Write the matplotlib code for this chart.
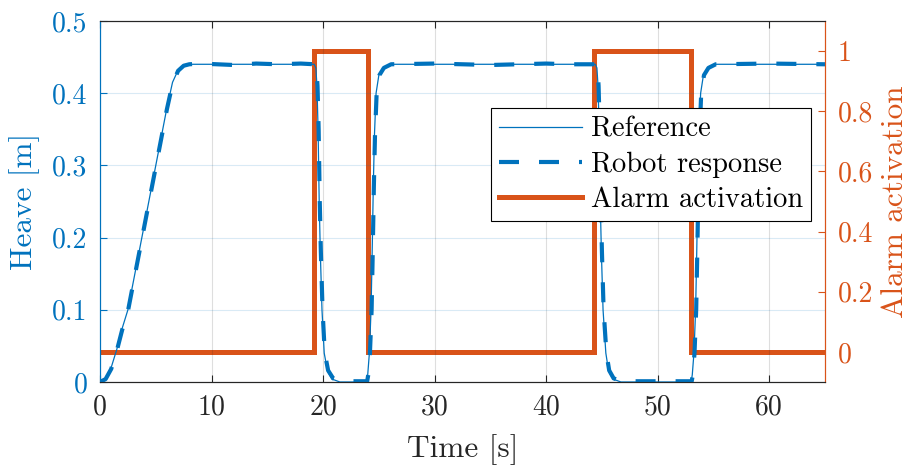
import matplotlib
matplotlib.use("Agg")
import matplotlib.pyplot as plt
from matplotlib.lines import Line2D

plt.rcParams['font.family'] = ['cmr10', 'DejaVu Serif']
plt.rcParams['mathtext.fontset'] = 'cm'
plt.rcParams['axes.formatter.use_mathtext'] = True

BLUE = '#0072BD'
ORANGE = '#D95319'
DARK = '#262626'

# ---- data ----
ref_t = [0, 0.5, 1.0, 1.5, 2.0, 2.5, 3.0, 4.0, 5.0, 6.0, 6.5, 7.0, 7.5, 8.0, 9.0,
         19.2, 19.35, 19.45, 19.55, 19.65, 19.75, 19.9, 20.1, 20.4, 20.8, 21.5,
         23.9, 24.0, 24.15, 24.3, 24.4, 24.5, 24.6, 24.75, 25.0, 25.4, 26.0,
         44.4, 44.55, 44.65, 44.75, 44.85, 44.95, 45.1, 45.35, 45.6, 46.0, 46.7,
         53.0, 53.1, 53.25, 53.4, 53.5, 53.6, 53.7, 53.85, 54.1, 54.5, 55.1, 65.0]
ref_v = [0.0, 0.005, 0.02, 0.045, 0.075, 0.10, 0.14, 0.22, 0.30, 0.38, 0.415, 0.432, 0.439, 0.44, 0.44,
         0.44, 0.435, 0.41, 0.35, 0.25, 0.18, 0.10, 0.04, 0.015, 0.004, 0.0,
         0.0, 0.01, 0.04, 0.10, 0.18, 0.27, 0.34, 0.40, 0.425, 0.435, 0.44,
         0.44, 0.435, 0.41, 0.35, 0.25, 0.18, 0.10, 0.04, 0.015, 0.004, 0.0,
         0.0, 0.01, 0.04, 0.10, 0.18, 0.27, 0.34, 0.40, 0.425, 0.435, 0.44, 0.44]

rob_t = [0, 0.5, 1.0, 1.5, 2.0, 2.5, 3.0, 4.0, 5.0, 6.0, 6.5, 7.0, 7.5, 8.0, 9.0, 12.0, 14.0, 16.0, 18.0,
         19.25, 19.4, 19.5, 19.6, 19.7, 19.8, 19.95, 20.15, 20.45, 20.9, 21.6, 22.5,
         23.95, 24.05, 24.2, 24.35, 24.45, 24.55, 24.65, 24.8, 25.05, 25.45, 26.1, 30.0, 35.0, 40.0, 42.0,
         44.45, 44.6, 44.7, 44.8, 44.9, 45.0, 45.15, 45.4, 45.65, 46.05, 46.8, 49.0,
         53.05, 53.15, 53.3, 53.45, 53.55, 53.65, 53.75, 53.9, 54.15, 54.55, 55.2, 60.0, 65.0]
rob_v = [0.0, 0.004, 0.018, 0.043, 0.073, 0.098, 0.138, 0.218, 0.298, 0.378, 0.413, 0.431, 0.438, 0.44, 0.441, 0.439, 0.441, 0.44, 0.441,
         0.44, 0.434, 0.41, 0.35, 0.25, 0.18, 0.10, 0.04, 0.016, 0.005, 0.001, 0.001,
         0.001, 0.01, 0.04, 0.10, 0.18, 0.27, 0.34, 0.40, 0.425, 0.435, 0.44, 0.441, 0.439, 0.441, 0.44,
         0.44, 0.434, 0.41, 0.35, 0.25, 0.18, 0.10, 0.04, 0.016, 0.005, 0.001, 0.001,
         0.001, 0.01, 0.04, 0.10, 0.18, 0.27, 0.34, 0.40, 0.425, 0.435, 0.44, 0.441, 0.44]

alarm_t = [0, 19.2, 19.2, 24.05, 24.05, 44.3, 44.3, 52.95, 52.95, 65]
alarm_v = [0, 0, 1, 1, 0, 0, 1, 1, 0, 0]

x_ticks = [0, 10, 20, 30, 40, 50, 60]
left_ticks = [0, 0.1, 0.2, 0.3, 0.4, 0.5]
left_labels = ['0', '0.1', '0.2', '0.3', '0.4', '0.5']
right_ticks = [0, 0.2, 0.4, 0.6, 0.8, 1.0]
right_labels = ['0', '0.2', '0.4', '0.6', '0.8', '1']

TICK_FS = 20
LABEL_FS = 22.5
LEG_FS = 20.5

fig = plt.figure(figsize=(9.11, 4.71), dpi=100)
ax = fig.add_axes([0.1098, 0.189, 0.7958, 0.7665])
ax2 = ax.twinx()
# blue curves on top of the orange one
ax.set_zorder(ax2.get_zorder() + 1)
ax.patch.set_visible(False)

l_alarm, = ax2.plot(alarm_t, alarm_v, color=ORANGE, lw=3.6, solid_joinstyle='miter')
l_ref, = ax.plot(ref_t, ref_v, color=BLUE, lw=0.9)
l_rob, = ax.plot(rob_t, rob_v, color=BLUE, lw=3.0, ls=(0, (4.8, 4.8)))

ax.set_xlim(0, 65)
ax.set_ylim(0, 0.5)
ax2.set_ylim(-0.1, 1.1)

ax.set_xticks(x_ticks)
ax.set_xticklabels([str(v) for v in x_ticks])
ax.set_yticks(left_ticks)
ax.set_yticklabels(left_labels)
ax2.set_yticks(right_ticks)
ax2.set_yticklabels(right_labels)

for a in (ax, ax2):
    for s in a.spines.values():
        s.set_linewidth(0.8)
    a.spines['top'].set_color(DARK)
    a.spines['bottom'].set_color(DARK)
    a.spines['left'].set_color(BLUE)
    a.spines['right'].set_color(ORANGE)

ax.tick_params(axis='x', which='both', direction='in', length=5, width=0.8, colors=DARK,
               top=True, labelsize=TICK_FS, pad=9)
ax.tick_params(axis='y', direction='in', length=5, width=0.8, colors=BLUE,
               labelsize=TICK_FS, pad=9)
ax2.tick_params(axis='y', direction='in', length=5, width=0.8, colors=ORANGE,
                labelsize=TICK_FS, pad=9)

ax.grid(axis='x', color=DARK, alpha=0.15, lw=0.8)
ax.grid(axis='y', color=BLUE, alpha=0.15, lw=0.8)

ax.set_xlabel('Time [s]', fontsize=LABEL_FS, color=DARK)
ax.set_ylabel('Heave [m]', fontsize=LABEL_FS, color=BLUE)
ax2.set_ylabel('Alarm activation', fontsize=LABEL_FS, color=ORANGE)
ax.xaxis.set_label_coords(0.5, -0.145)
ax.yaxis.set_label_coords(-0.083, 0.5)
ax2.yaxis.set_label_coords(1.077, 0.5)

leg = ax.legend([l_ref, l_rob, l_alarm], ['Reference', 'Robot response', 'Alarm activation'],
                loc='upper right', bbox_to_anchor=(0.981, 0.759), borderaxespad=0,
                fancybox=False, edgecolor='k', framealpha=1, fontsize=LEG_FS,
                handlelength=2.9, labelspacing=0.3, borderpad=0.3, handletextpad=0.3)
leg.get_frame().set_linewidth(0.8)

fig.savefig('out.png', dpi=100)
